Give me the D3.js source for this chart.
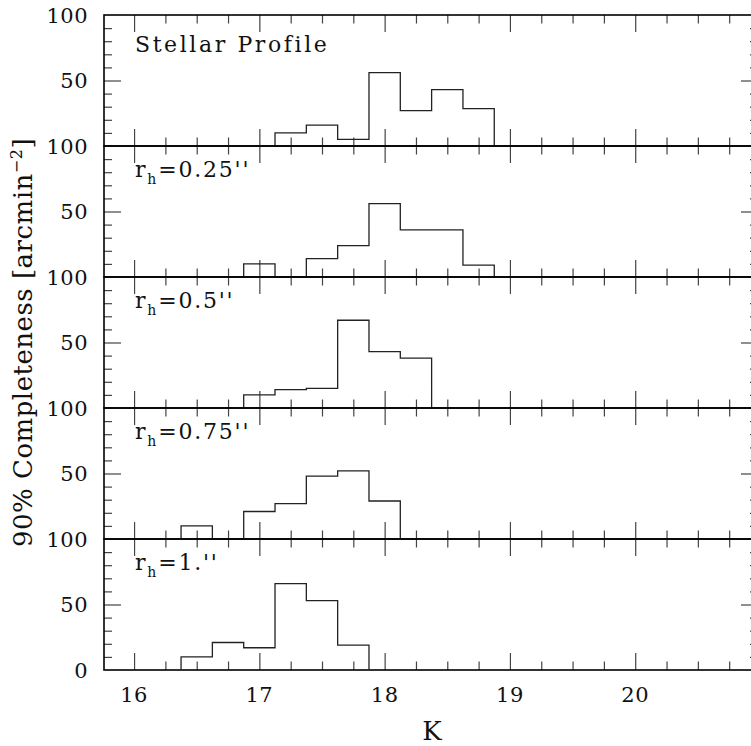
<!DOCTYPE html>
<html>
<head>
<meta charset="utf-8">
<script src="https://cdn.jsdelivr.net/npm/d3@7"></script>
<style>
  body { margin: 0; background: #fff; }
  text { font-family: "DejaVu Serif", serif; fill: #111; }
</style>
</head>
<body>
<div id="chart"></div>
<script>
// bin centres in K (bins are 0.25 mag wide)
var kBins = [16.5, 16.75, 17, 17.25, 17.5, 17.75, 18, 18.25, 18.5, 18.75];

// histogram values, one array per panel
var stellar = [0, 0, 0, 10, 16, 5, 56, 27, 43, 28.5];
var rh025 = [0, 0, 10, 0, 14, 24, 56, 36, 36, 9];
var rh05 = [0, 0, 10, 14, 15, 67, 43, 38, 0, 0];
var rh075 = [10, 0, 21, 27, 48, 52, 29, 0, 0, 0];
var rh1 = [10, 21, 17, 66, 53, 19, 0, 0, 0, 0];

var panelNames = ["Stellar Profile", "0.25''", "0.5''", "0.75''", "1.''"];
var panelSeries = [stellar, rh025, rh05, rh075, rh1];

var xTickLabels = [16, 17, 18, 19, 20];
var yTickLabels = [50, 100];

var binWidth = 0.25;

//overall size
var width = 751;
var height = 746;

//plot frame
var plotLeft = 104, plotRight = 758, plotTop = 15, panelH = 131;

var svg = d3.select("#chart")
  .append("svg")
  .attr("width", width)
  .attr("height", height);

//shared x scale
var xScale = d3.scaleLinear()
  .domain([15.76, 20.98])
  .range([plotLeft, plotRight]);

var majorX = d3.range(16, 21, 1);
var minorX = d3.range(16, 21, 0.25).filter(function(d) { return d % 1 !== 0; });
var majorY = [50];
var minorY = [10, 20, 30, 40, 60, 70, 80, 90];

var line = d3.line()
  .x(function(d) { return xScale(d.x); })
  .curve(d3.curveStepAfter);

panelSeries.forEach(function(values, i) {
  var y0 = plotTop + i * panelH;
  var yScale = d3.scaleLinear().domain([0, 100]).range([y0 + panelH, y0]);

  var g = svg.append("g").attr("class", "panel");

  //tick helper
  function addAxis(axis, transform) {
    var a = g.append("g").attr("transform", transform).call(axis);
    a.selectAll(".domain").remove();
    a.selectAll(".tick line").attr("stroke", "#444").attr("stroke-width", 1.2);
    a.selectAll(".tick text").remove();
  }

  //x ticks at top (pointing down) and bottom (pointing up)
  addAxis(d3.axisBottom(xScale).tickValues(majorX).tickSize(17), "translate(0," + y0 + ")");
  addAxis(d3.axisBottom(xScale).tickValues(minorX).tickSize(8.5), "translate(0," + y0 + ")");
  addAxis(d3.axisTop(xScale).tickValues(majorX).tickSize(17), "translate(0," + (y0 + panelH) + ")");
  addAxis(d3.axisTop(xScale).tickValues(minorX).tickSize(8.5), "translate(0," + (y0 + panelH) + ")");

  //y ticks on both sides
  addAxis(d3.axisRight(yScale).tickValues(majorY).tickSize(17), "translate(" + plotLeft + ",0)");
  addAxis(d3.axisRight(yScale).tickValues(minorY).tickSize(8), "translate(" + plotLeft + ",0)");
  addAxis(d3.axisLeft(yScale).tickValues(majorY).tickSize(17), "translate(" + plotRight + ",0)");
  addAxis(d3.axisLeft(yScale).tickValues(minorY).tickSize(8), "translate(" + plotRight + ",0)");

  //frame
  g.append("rect")
    .attr("x", plotLeft)
    .attr("y", y0)
    .attr("width", plotRight - plotLeft)
    .attr("height", panelH)
    .attr("fill", "none")
    .attr("stroke", "#000")
    .attr("stroke-width", 1.6);

  //y tick labels
  var labels = yTickLabels.slice();
  if (i === panelSeries.length - 1) labels.unshift(0);
  g.selectAll(".ylab")
    .data(labels)
    .enter()
    .append("text")
    .attr("class", "ylab")
    .attr("x", 88)
    .attr("y", function(d) { return yScale(d); })
    .attr("dy", "0.36em")
    .attr("text-anchor", "end")
    .style("font-size", "21px")
    .style("letter-spacing", "0.5px")
    .text(function(d) { return d; });

  //histogram outline
  var nz = values.map(function(v, k) { return v > 0 ? k : -1; }).filter(function(k) { return k >= 0; });
  var i0 = nz[0], i1 = nz[nz.length - 1];
  var pts = [{ x: kBins[i0] - binWidth / 2, y: 0 }];
  for (var k = i0; k <= i1; k++) {
    pts.push({ x: kBins[k] - binWidth / 2, y: values[k] });
  }
  pts.push({ x: kBins[i1] + binWidth / 2, y: 0 });

  g.append("path")
    .datum(pts)
    .attr("d", line.y(function(d) { return yScale(d.y); }))
    .attr("fill", "none")
    .attr("stroke", "#222")
    .attr("stroke-width", 1.3);

  //panel label
  var lab = g.append("text")
    .attr("x", 135)
    .attr("y", y0 + (i === 0 ? 37 : 31))
    .style("font-size", "22px")
    .style("letter-spacing", i === 0 ? "2.6px" : "1.8px");
  if (i === 0) {
    lab.text(panelNames[i]);
  } else {
    lab.append("tspan").text("r");
    lab.append("tspan")
      .attr("dy", 7)
      .style("font-size", "14px")
      .text("h");
    lab.append("tspan")
      .attr("dy", -7)
      .text("=" + panelNames[i]);
  }
});

//x tick labels on the bottom panel
svg.selectAll(".xlab")
  .data(xTickLabels)
  .enter()
  .append("text")
  .attr("class", "xlab")
  .attr("x", function(d) { return xScale(d); })
  .attr("y", 702)
  .attr("text-anchor", "middle")
  .style("font-size", "21px")
  .style("letter-spacing", "0.5px")
  .text(function(d) { return d; });

//axis titles
svg.append("text")
  .attr("x", 432)
  .attr("y", 740)
  .attr("text-anchor", "middle")
  .style("font-size", "26px")
  .text("K");

var yt = svg.append("text")
  .attr("transform", "translate(32," + (plotTop + panelH * 2.5) + ") rotate(-90)")
  .attr("text-anchor", "middle")
  .style("font-size", "26px")
  .style("letter-spacing", "0.5px");
yt.append("tspan").text("90% Completeness [arcmin");
yt.append("tspan").attr("dy", -10).style("font-size", "16px").text("−2");
yt.append("tspan").attr("dy", 10).text("]");
</script>
</body>
</html>
